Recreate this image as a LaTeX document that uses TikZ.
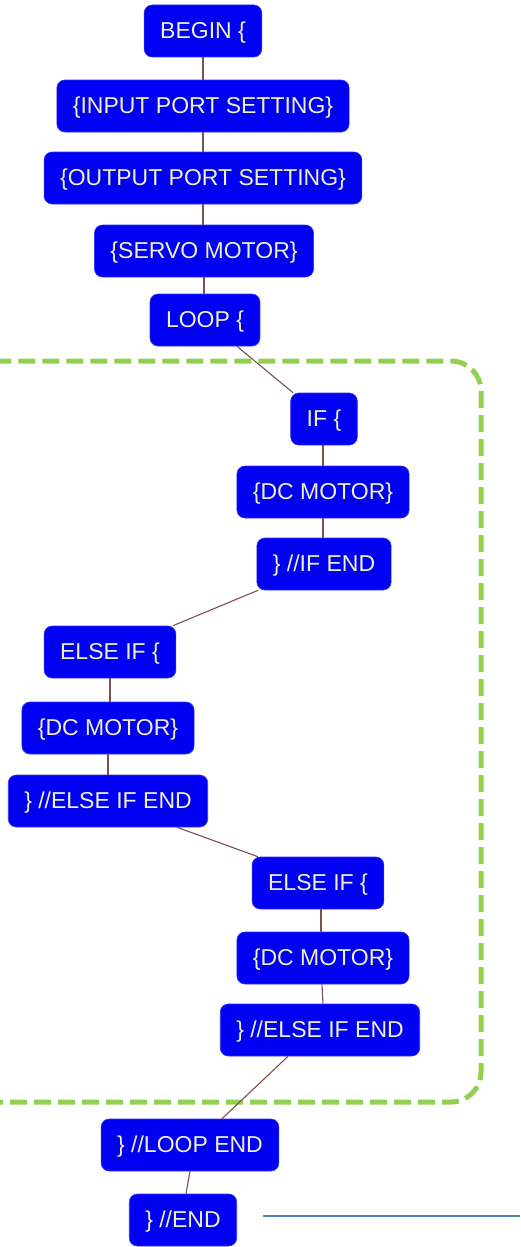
\documentclass[tikz,border=0pt]{standalone}
\usepackage{fontspec}
\setmainfont{Liberation Sans}
\usetikzlibrary{positioning}
\definecolor{boxblue}{RGB}{0,0,242}
\definecolor{boxtext}{RGB}{240,240,200}
\definecolor{linkbrown}{RGB}{125,80,80}
\definecolor{dashgreen}{RGB}{146,208,80}
\definecolor{lineblue}{RGB}{79,129,189}
\tikzset{
  stepbox/.style={draw=boxblue!80!white, line width=0.6pt, fill=boxblue, rounded corners=8pt,
    text=boxtext, font=\fontsize{23}{26}\selectfont, minimum height=52pt,
    inner xsep=16pt, inner ysep=0pt, text height=17pt, text depth=3pt},
  link/.style={draw=linkbrown, line width=1.1pt},
  groupframe/.style={draw=dashgreen, line width=5pt, dash pattern=on 17pt off 7pt, rounded corners=30pt},
  rule/.style={draw=lineblue, line width=1.8pt}
}
\begin{document}
\begin{tikzpicture}[x=1pt,y=-1pt]
\useasboundingbox (0,0) rectangle (520,1247);
\clip (0,0) rectangle (520,1247);
\fill[white] (0,0) rectangle (520,1247);
% dashed group frame
\draw[groupframe] (-60,361) rectangle (481,1102);
% nodes
\node[stepbox] (begin) at (203,31) {BEGIN \{};
\node[stepbox] (input) at (203,106) {\{INPUT PORT SETTING\}};
\node[stepbox] (output) at (203,178) {\{OUTPUT PORT SETTING\}};
\node[stepbox] (servo) at (204,251) {\{SERVO MOTOR\}};
\node[stepbox] (loop) at (205,320) {LOOP \{};
\node[stepbox] (if) at (324,419) {IF \{};
\node[stepbox] (dc1) at (323,492) {\{DC MOTOR\}};
\node[stepbox] (ifend) at (324,564) {\} //IF END};
\node[stepbox] (elif1) at (110,652) {ELSE IF \{};
\node[stepbox] (dc2) at (108,728) {\{DC MOTOR\}};
\node[stepbox] (elifend1) at (108,801) {\} //ELSE IF END};
\node[stepbox] (elif2) at (318,883) {ELSE IF \{};
\node[stepbox] (dc3) at (323,958) {\{DC MOTOR\}};
\node[stepbox] (elifend2) at (320,1030) {\} //ELSE IF END};
\node[stepbox] (loopend) at (190,1145) {\} //LOOP END};
\node[stepbox] (end) at (183,1220) {\} //END};
% connectors
\draw[link] (begin.south) -- (begin.south |- input.north);
\draw[link] (input.south) -- (input.south |- output.north);
\draw[link] (output.south) -- (output.south |- servo.north);
\draw[link] (servo.south) -- (servo.south |- loop.north);
\draw[link] ([xshift=32pt]loop.south) -- ([xshift=-31pt]if.north);
\draw[link] (dc1.north |- if.south) -- (dc1.north);
\draw[link] (dc1.south) -- (dc1.south |- ifend.north);
\draw[link] ([xshift=-66pt]ifend.south) -- ([xshift=63pt]elif1.north);
\draw[link] (elif1.south) -- (elif1.south |- dc2.north);
\draw[link] (dc2.south) -- (dc2.south |- elifend1.north);
\draw[link] ([xshift=69pt]elifend1.south) -- ([xshift=-60pt]elif2.north);
\draw[link] ([xshift=3pt]elif2.south) -- ([xshift=-2pt]dc3.north);
\draw[link] ([xshift=-1pt]dc3.south) -- (dc3.south |- elifend2.north);
\draw[link] ([xshift=-32pt]elifend2.south) -- ([xshift=32pt]loopend.north);
\draw[link] (loopend.south) -- ([xshift=3pt]end.north);
% rule line at the bottom
\coordinate (rulestart) at ([xshift=26pt]end.east);
\coordinate (ruleend) at (520,1216);
\draw[rule] (rulestart |- ruleend) -- (ruleend);
\end{tikzpicture}
\end{document}
